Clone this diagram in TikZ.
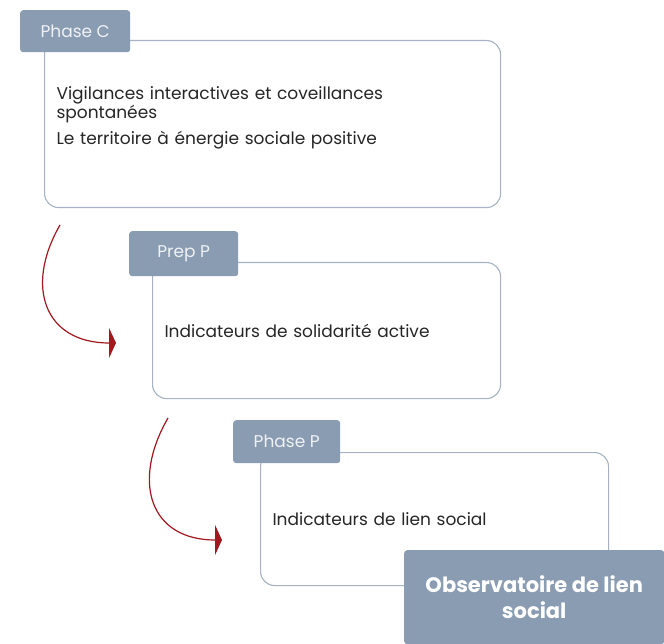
\documentclass[tikz,border=0pt]{standalone}
\usepackage{fontspec}
\setmainfont{Poppins}
\usetikzlibrary{arrows.meta}
\definecolor{tabfill}{HTML}{8A9CB1}
\definecolor{tabtext}{HTML}{EEF1F5}
\definecolor{panelline}{HTML}{A7B3C2}
\definecolor{flowred}{HTML}{A3171E}
\begin{document}
\begin{tikzpicture}[x=1pt, y=1pt,
  panel/.style={draw=panelline, line width=1.1pt, rounded corners=14pt, fill=white,
    anchor=north west, align=left, inner xsep=12pt, text=black!85,
    font=\fontsize{17}{16}\selectfont},
  tab/.style={fill=tabfill, rounded corners=3pt, anchor=north west, text=tabtext,
    inner sep=0pt, font=\fontsize{17}{18}\selectfont},
  flow/.style={draw=flowred, line width=1.2pt, -{Triangle[length=7pt,width=30pt]}}]
  \useasboundingbox[fill=white] (0,0) rectangle (664,-644);

  % === panneaux ===
  \node[panel, text width=432pt, minimum height=167pt] (pc) at (44,-40)
    {Vigilances interactives et coveillances\\spontanées\\[8pt]Le territoire à énergie sociale positive\\[-4pt]\strut};
  \node[tab, minimum width=110pt, minimum height=42pt] (tc) at (20,-10) {Phase C};

  \node[panel, text width=324pt, minimum height=136pt] (pp) at (152,-262)
    {Indicateurs de solidarité active};
  \node[tab, minimum width=109pt, minimum height=45pt] (tp) at (129,-231) {Prep P};

  \node[panel, text width=324pt, minimum height=133pt] (ph) at (260,-452)
    {Indicateurs de lien social};
  \node[tab, minimum width=107pt, minimum height=43pt] (th) at (233,-420) {Phase P};

  % === observatoire ===
  \node[tab, anchor=north west, minimum width=260pt, minimum height=94pt, align=center,
    text=white, font=\fontsize{21}{26}\selectfont\bfseries] (obs) at (404,-550)
    {Observatoire de lien\\social};

  % === flèches ===
  \coordinate (f1s) at (60,-225);
  \coordinate (f1e) at (116,-343);
  \coordinate (f2s) at (168,-418);
  \coordinate (f2e) at (222,-540);
  \draw[flow] (f1s) to[out=240, in=180, looseness=1.4] (f1e);
  \draw[flow] (f2s) to[out=240, in=180, looseness=1.4] (f2e);
\end{tikzpicture}
\end{document}
